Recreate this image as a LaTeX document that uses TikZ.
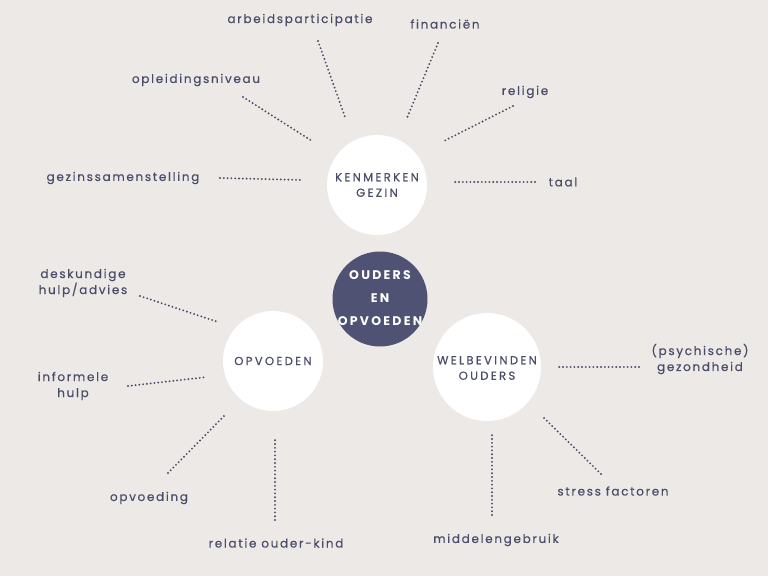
\documentclass[tikz,border=0pt]{standalone}
\usepackage{fontspec}
\newfontfamily\lblfont[LetterSpace=14,FakeBold=0.4]{Poppins}
\newfontfamily\capfont[LetterSpace=20,FakeBold=0.4]{Poppins}
\newfontfamily\hubfont[LetterSpace=18]{Poppins}
\definecolor{bg}{HTML}{EDE9E7}
\definecolor{ink}{HTML}{4A4D68}
\definecolor{hub}{HTML}{4F5273}
\begin{document}
\begin{tikzpicture}[x=1pt,y=-1pt,
  lbl/.style={font=\lblfont\fontsize{12}{16}\selectfont, text=ink, align=center, inner sep=0pt},
  captxt/.style={font=\capfont\fontsize{11.6}{15.5}\selectfont, text=ink, align=center, inner sep=0pt},
  wcirc/.style={circle, fill=white, draw=none},
  dots/.style={draw=ink, line width=2.1pt, line cap=round, dash pattern=on 0pt off 3.8pt}]
\fill[bg] (0,0) rectangle (768,576);
\useasboundingbox (0,0) rectangle (768,576);

% circles
\node[wcirc, minimum size=100pt] (kg) at (377,185) {};
\node[captxt] at (377,185) {KENMERKEN\\GEZIN};
\node[circle, fill=hub, minimum size=95pt] (hub) at (380,299) {};
\node[font=\hubfont\bfseries\fontsize{12.5}{23}\selectfont, text=white, align=center, inner sep=0pt] at (380,298) {OUDERS\\EN\\OPVOEDEN};
\node[wcirc, minimum size=100pt] (op) at (273,361) {};
\node[captxt] at (273,361) {OPVOEDEN};
\node[wcirc, minimum size=108pt] (wb) at (487,367) {};
\node[captxt] at (487,368) {WELBEVINDEN\\OUDERS};

% labels
\node[lbl] (t1) at (300,20) {arbeidsparticipatie};
\node[lbl] (t2) at (445,24) {financiën};
\node[lbl] (t3) at (196,80) {opleidingsniveau};
\node[lbl] (t4) at (525,92) {religie};
\node[lbl] (t5) at (123,178) {gezinssamenstelling};
\node[lbl] (t6) at (563,182) {taal};
\node[lbl] (t7) at (83,283) {deskundige\\hulp/advies};
\node[lbl] (t8) at (73,386) {informele\\hulp};
\node[lbl] (t9) at (149,498) {opvoeding};
\node[lbl] (t10) at (276,543) {relatie ouder-kind};
\node[lbl] (t11) at (700,359) {(psychische)\\gezondheid};
\node[lbl] (t12) at (613,491) {stress factoren};
\node[lbl] (t13) at (496,540) {middelengebruik};

% connector endpoints
\coordinate (a1) at (318,41);  \coordinate (b1) at (345,117);
\coordinate (a2) at (438,43);  \coordinate (b2) at (407,118);
\coordinate (a3) at (243,97);  \coordinate (b3) at (312,141);
\coordinate (a4) at (513,106); \coordinate (b4) at (442,142);
\coordinate (a5) at (220,178); \coordinate (b5) at (303,180);
\coordinate (a6) at (535,182); \coordinate (b6) at (453,182);
\coordinate (a7) at (140,296); \coordinate (b7) at (218,322);
\coordinate (a8) at (128,386); \coordinate (b8) at (207,377);
\coordinate (a9) at (168,473); \coordinate (b9) at (225,415);
\coordinate (a10) at (275,520); \coordinate (b10) at (275,438);
\coordinate (a11) at (639,367); \coordinate (b11) at (558,367);
\coordinate (a12) at (601,474); \coordinate (b12) at (543,417);
\coordinate (a13) at (492,515); \coordinate (b13) at (492,433);

\foreach \i in {1,...,13} { \draw[dots] (a\i) -- (b\i); }
\end{tikzpicture}
\end{document}
